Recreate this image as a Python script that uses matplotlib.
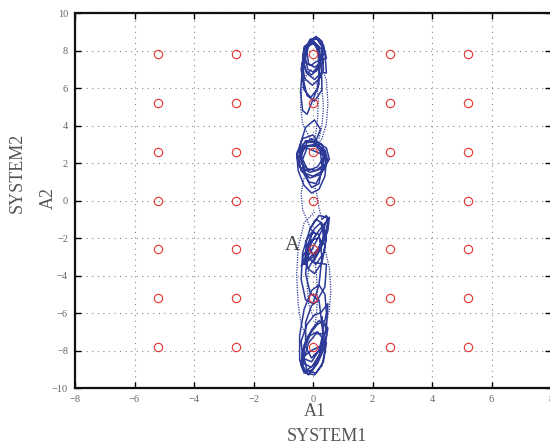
import matplotlib
matplotlib.use("Agg")
import matplotlib.pyplot as plt
import numpy as np

# equilibrium grid (red circles)
eq_x = [-5.2, -2.6, 0.0, 2.6, 5.2]
eq_y = [-7.8, -5.2, -2.6, 0.0, 2.6, 5.2, 7.8]

# scroll loops, one list per cluster, (A1, A2) pairs
top_scroll = [(0.10, 6.9),
    (0.25, 7.6), (0.18, 8.25), (-0.05, 8.55), (-0.27, 8.2), (-0.35, 7.55), (-0.25, 6.95), (-0.05, 6.7), (0.16, 7.0),
    (0.34, 7.35), (0.27, 8.1), (0.02, 8.45), (-0.24, 8.15), (-0.36, 7.3), (-0.28, 6.5), (-0.02, 6.15), (0.22, 6.5),
    (0.35, 7.0), (0.3, 8.2), (0.1, 8.7), (-0.15, 8.4), (-0.35, 7.2), (-0.42, 5.8), (-0.35, 4.8), (-0.2, 4.6), (-0.05, 5.2), (0.2, 6.2),
    (0.18, 7.8), (0.1, 8.3), (-0.1, 8.45), (-0.3, 8.2), (-0.34, 7.75), (-0.25, 7.35), (-0.08, 7.2), (0.1, 7.4),
    (0.45, 7.6), (0.35, 8.3), (0.1, 8.65), (-0.2, 8.3), (-0.33, 7.5), (-0.22, 6.8), (0.05, 6.45), (0.3, 6.85),
    (0.45, 6.8), (0.4, 7.9), (0.2, 8.6), (-0.1, 8.6), (-0.3, 7.9), (-0.35, 6.6), (-0.2, 5.6), (0.05, 5.3), (0.3, 5.9),
    (0.28, 7.3), (0.18, 8.2), (-0.05, 8.6), (-0.28, 8.15), (-0.4, 7.0), (-0.3, 5.9), (-0.08, 5.5), (0.15, 5.95),
    (0.22, 7.0), (0.2, 7.9), (0.02, 8.4), (-0.18, 8.2), (-0.25, 7.6), (-0.18, 7.0), (0.0, 6.85), (0.14, 7.1),
    (0.38, 7.9), (0.3, 8.5), (0.1, 8.75), (-0.12, 8.5), (-0.2, 7.9), (-0.15, 7.3), (0.05, 7.1), (0.25, 7.35)]

mid_scroll = [(0.1, 2.9),
    (-0.2, 2.9), (-0.45, 2.5), (-0.5, 2.0), (-0.35, 1.5), (0.0, 1.3), (0.35, 1.6), (0.5, 2.1), (0.4, 2.7), (0.1, 3.0),
    (-0.3, 2.9), (-0.5, 2.3), (-0.4, 1.6), (-0.1, 1.2), (0.25, 1.4), (0.45, 2.0), (0.35, 2.6), (0.05, 3.1),
    (-0.25, 3.2), (-0.4, 2.7), (-0.35, 1.9), (-0.15, 1.0), (0.1, 0.9), (0.3, 1.5), (0.35, 2.3), (0.2, 3.0),
    (0.0, 3.5), (-0.35, 3.3), (-0.55, 2.5), (-0.5, 1.6), (-0.3, 0.8), (-0.05, 0.4), (0.2, 0.6), (0.4, 1.3), (0.45, 2.2), (0.3, 3.0),
    (-0.05, 3.3), (-0.35, 3.0), (-0.55, 2.4), (-0.45, 1.8), (-0.1, 1.5), (0.3, 1.7), (0.55, 2.2), (0.45, 2.8), (0.15, 3.1),
    (-0.2, 3.1), (-0.4, 2.4), (-0.3, 1.4), (-0.05, 0.7), (0.2, 0.9), (0.3, 1.8), (0.25, 2.6), (0.05, 3.0),
    (0.25, 3.8), (0.05, 4.3), (-0.25, 3.9), (-0.45, 2.9), (-0.4, 2.0), (-0.15, 1.6), (0.15, 1.8), (0.4, 2.4),
    (-0.2, 2.8), (-0.35, 2.2), (-0.2, 1.7), (0.1, 1.6), (0.35, 1.9), (0.4, 2.5), (0.2, 2.9), (-0.05, 3.2)]

low_scroll = [(0.3, -1.0), (0.45, -0.8), (0.5, -1.3), (0.3, -2.2), (0.0, -3.0), (-0.3, -3.4), (-0.35, -3.0), (-0.1, -2.3), (0.2, -1.6),
    (0.4, -1.2), (0.35, -2.0), (0.1, -2.9), (-0.15, -3.6), (-0.3, -3.3), (-0.2, -2.4), (0.05, -1.5), (0.25, -1.2),
    (0.45, -2.0), (0.35, -2.8), (0.1, -3.4), (-0.2, -3.0), (-0.25, -2.2), (-0.05, -1.7), (0.2, -1.8),
    (0.3, -3.0), (0.2, -4.5), (0.0, -5.5), (-0.25, -5.3), (-0.4, -4.2), (-0.35, -2.8), (-0.1, -1.5), (0.2, -0.8), (0.5, -0.9),
    (0.4, -2.5), (0.3, -3.3), (0.05, -3.9), (-0.2, -3.6), (-0.25, -2.8), (-0.05, -2.1), (0.2, -2.0), (0.35, -2.3),
    (-0.4, -3.5), (-0.1, -2.8), (0.2, -1.9), (0.45, -1.1), (0.55, -0.9), (0.5, -1.6), (0.25, -2.6), (0.0, -3.3),
    (0.45, -3.4), (0.4, -4.6), (0.15, -5.3), (-0.1, -4.9), (-0.25, -3.9), (-0.15, -2.6), (0.1, -1.8),
    (-0.1, -1.5), (0.1, -1.0), (0.3, -1.2), (0.35, -2.0), (0.2, -2.7), (0.0, -2.9), (-0.15, -2.4), (-0.05, -1.8)]

bottom_scroll = [(0.4, -6.5), (0.45, -7.2), (0.3, -8.0), (0.0, -8.8), (-0.25, -9.1), (-0.4, -8.6), (-0.3, -7.7), (-0.05, -6.9), (0.2, -6.4),
    (0.5, -6.8), (0.4, -7.8), (0.15, -8.7), (-0.15, -9.3), (-0.35, -9.0), (-0.35, -8.1), (-0.15, -7.2), (0.15, -6.6), (0.4, -6.4),
    (0.45, -6.0), (0.4, -5.0), (0.2, -4.5), (-0.05, -4.8), (-0.3, -5.8), (-0.45, -7.2), (-0.45, -8.5), (-0.3, -9.2), (0.0, -9.0), (0.25, -8.2),
    (0.35, -7.3), (0.2, -8.3), (-0.05, -8.9), (-0.3, -8.7), (-0.3, -7.9), (-0.1, -7.2), (0.15, -7.0),
    (0.45, -7.6), (0.35, -8.6), (0.1, -9.2), (-0.2, -9.1), (-0.3, -8.4), (-0.15, -7.6), (0.1, -7.1), (0.35, -7.1),
    (0.3, -6.2), (0.35, -7.0), (0.2, -8.0), (-0.05, -8.6), (-0.35, -8.4), (-0.4, -7.5), (-0.2, -6.6), (0.05, -6.1), (0.25, -6.0),
    (0.5, -5.5), (0.45, -6.8), (0.25, -7.9), (-0.05, -8.4), (-0.25, -7.8), (-0.25, -6.5), (-0.05, -5.6), (0.2, -5.3),
    (0.4, -8.0), (0.3, -8.8), (0.05, -9.3), (-0.25, -9.2), (-0.4, -8.8), (-0.3, -8.3), (-0.05, -8.0), (0.2, -7.8)]

# fast jumps between scrolls (drawn sparse / dotted)
jumps = [
    [(0.25, 7.35), (0.45, 6.4), (0.5, 5.2), (0.45, 4.1), (0.3, 3.3), (0.1, 2.9)],
    [(-0.1, 3.3), (-0.35, 4.1), (-0.42, 5.0), (-0.38, 5.9), (-0.22, 6.7), (-0.05, 7.0)],
    [(0.12, 6.4), (0.18, 5.4), (0.15, 4.3), (0.08, 3.4)],
    [(0.3, 6.0), (0.35, 5.0), (0.3, 4.0), (0.2, 3.3)],
    [(0.05, 0.8), (0.15, 0.2), (0.2, -0.4), (0.3, -1.0)],
    [(-0.3, 1.2), (-0.4, 0.4), (-0.35, -0.5), (-0.1, -1.4)],
    [(0.05, -0.6), (-0.3, -1.2), (-0.5, -2.5), (-0.55, -4.0), (-0.5, -5.5), (-0.4, -6.6), (-0.2, -7.3)],
    [(0.4, -2.6), (0.55, -3.6), (0.6, -4.8), (0.55, -5.8), (0.45, -6.5)],
    [(0.05, -3.0), (0.12, -4.0), (0.15, -5.0), (0.12, -6.0), (0.05, -6.8)],
    [(-0.15, -3.6), (-0.2, -4.5), (-0.15, -5.5), (0.0, -6.2)],
]

blue = '#2d3a98'
serif = 'Liberation Serif'

fig = plt.figure(figsize=(5.5, 4.48), dpi=100)
ax = fig.add_axes([0.1364, 0.1339, 0.8655, 0.837])

for seg in jumps:
    seg = np.array(seg)
    ax.plot(seg[:, 0], seg[:, 1], color=blue, lw=0.9, ls=(0, (1, 1)), zorder=2)

for scroll in [top_scroll, mid_scroll, low_scroll, bottom_scroll]:
    s = np.array(scroll)
    ax.plot(s[:, 0], s[:, 1], color=blue, lw=1.1, zorder=3)

gx, gy = np.meshgrid(eq_x, eq_y)
ax.plot(gx.ravel(), gy.ravel(), 'o', ms=6, mfc='none', mec='#e8322f', mew=0.8, zorder=4)

ax.text(-0.7, -2.4, 'A', fontsize=15, family=serif, color='#444444', ha='center', va='center')

ax.set_xlim(-8, 8)
ax.set_ylim(-10, 10)
ax.set_xticks(np.arange(-8, 9, 2))
ax.set_yticks(np.arange(-10, 11, 2))
ax.grid(True, color='#888888', ls=(0, (1, 4)), lw=0.8)
ax.tick_params(direction='in', length=4, width=1, top=True, right=True,
               labelsize=7.5, labelcolor='#666666', pad=5)
for lab in ax.get_xticklabels() + ax.get_yticklabels():
    lab.set_family(serif)
for sp in ax.spines.values():
    sp.set_linewidth(1.6)
    sp.set_color('#111111')

fig.text(315 / 550, 1 - 412 / 448, 'A1', fontsize=13, family=serif, color='#555555', ha='center', va='center')
fig.text(327 / 550, 1 - 436 / 448, 'SYSTEM1', fontsize=13, family=serif, color='#555555', ha='center', va='center')
fig.text(17 / 550, 1 - 173 / 448, 'SYSTEM2', fontsize=13, family=serif, color='#555555', ha='center', va='center', rotation=90)
fig.text(48 / 550, 1 - 198 / 448, 'A2', fontsize=13, family=serif, color='#555555', ha='center', va='center', rotation=90)

fig.savefig('out.png', dpi=100)
